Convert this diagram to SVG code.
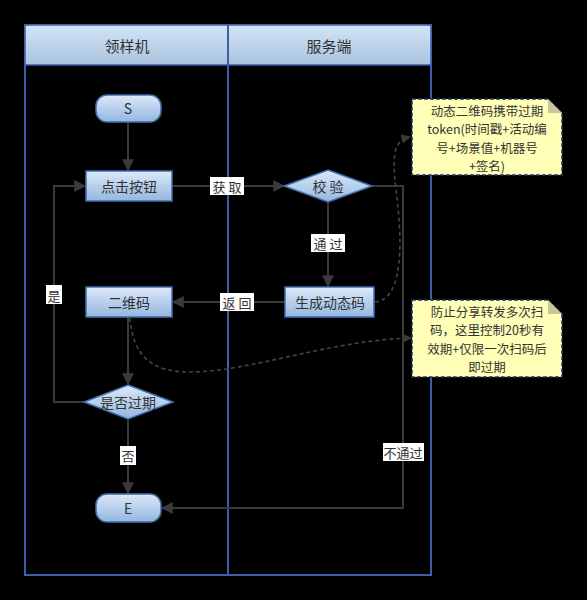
<svg xmlns="http://www.w3.org/2000/svg" width="587" height="600" viewBox="0 0 587 600">
<defs>
<linearGradient id="hdr" x1="0" y1="0" x2="0" y2="1"><stop offset="0" stop-color="#d3e4f6"/><stop offset="1" stop-color="#a9c3df"/></linearGradient>
<linearGradient id="nd" x1="0" y1="0" x2="0" y2="1"><stop offset="0" stop-color="#dce9f8"/><stop offset="1" stop-color="#94b6e0"/></linearGradient>
<marker id="ar" viewBox="0 0 10 10" refX="9" refY="5" markerWidth="6" markerHeight="6" orient="auto"><path d="M0,0 L10,5 L0,10 z" fill="#3a3a3a"/></marker>
<style>
.t{font-family:"Noto Sans CJK SC","Liberation Sans",sans-serif;fill:#333;text-anchor:middle;dominant-baseline:central}
.n{fill:url(#nd);stroke:#3f6db0;stroke-width:1.5}
.c{fill:none;stroke:#3a3a3a;stroke-width:2}
.d{fill:none;stroke:#444;stroke-width:1.6;stroke-dasharray:4 3}
.lb{fill:#fff}
.nt{fill:#ffffb8;stroke:#23305e;stroke-width:1.5;stroke-dasharray:4 2}
</style>
</defs>
<rect width="587" height="600" fill="#000"/>
<g id="pool">
<rect x="25" y="25" width="406" height="550" fill="none" stroke="#3c5fa8" stroke-width="2"/>
<rect x="25" y="25" width="406" height="40" fill="url(#hdr)" stroke="#3c5fa8" stroke-width="1.5"/>
<line x1="228" y1="25" x2="228" y2="575" stroke="#3c5fa8" stroke-width="2"/>
<text class="t" x="127" y="45" font-size="15">领样机</text>
<text class="t" x="329" y="45" font-size="15">服务端</text>
</g>
<g id="connectors">
<path class="c" d="M128,122 V170" marker-end="url(#ar)"/>
<path class="c" d="M172,186 H284" marker-end="url(#ar)"/>
<path class="c" d="M328,202 V286" marker-end="url(#ar)"/>
<path class="c" d="M285,302 H173" marker-end="url(#ar)"/>
<path class="c" d="M128,317 V384" marker-end="url(#ar)"/>
<path class="c" d="M84,402 H54 V186 H85" marker-end="url(#ar)"/>
<path class="c" d="M128,418 V493" marker-end="url(#ar)"/>
<path class="c" d="M372,186 H403 V508 H162" marker-end="url(#ar)"/>
<path class="d" d="M375,302 C405,300 402,235 396,190 C391,150 396,140 410,137" marker-end="url(#ar)"/>
<path class="d" d="M130,318 C133,355 150,372 190,372 C250,372 330,340 411,338" marker-end="url(#ar)"/>
<rect class="lb" x="210" y="177" width="34" height="18"/><text class="t" x="227" y="186" font-size="13">获 取</text>
<rect class="lb" x="311" y="234" width="34" height="18"/><text class="t" x="328" y="243" font-size="13">通 过</text>
<rect class="lb" x="220" y="293" width="34" height="18"/><text class="t" x="237" y="302" font-size="13">返 回</text>
<rect class="lb" x="46" y="285" width="16" height="19"/><text class="t" x="54" y="295" font-size="13">是</text>
<rect class="lb" x="120" y="446" width="16" height="19"/><text class="t" x="128" y="455" font-size="13">否</text>
<rect class="lb" x="383" y="443" width="41" height="18"/><text class="t" x="403" y="452" font-size="13">不通过</text>
</g>
<g id="S"><rect class="n" x="96" y="95" width="65" height="27" rx="11"/><text class="t" x="128" y="108" font-size="14">S</text></g>
<g id="click"><rect class="n" x="86" y="171" width="86" height="30"/><text class="t" x="129" y="186" font-size="14">点击按钮</text></g>
<g id="verify"><polygon class="n" points="328,170 372,186 328,202 284,186"/><text class="t" x="328" y="186" font-size="14">校 验</text></g>
<g id="gen"><rect class="n" x="285" y="287" width="89" height="30"/><text class="t" x="330" y="302" font-size="14">生成动态码</text></g>
<g id="qr"><rect class="n" x="86" y="287" width="86" height="30"/><text class="t" x="129" y="302" font-size="14">二维码</text></g>
<g id="expired"><polygon class="n" points="128,385 173,402 128,419 84,402"/><text class="t" x="128" y="402" font-size="14">是否过期</text></g>
<g id="E"><rect class="n" x="96" y="494" width="65" height="28" rx="11"/><text class="t" x="128" y="508" font-size="14">E</text></g>
<g id="note1">
<path class="nt" d="M412,99 H548 L562,113 V175 H412 Z"/>
<path d="M548,99 L562,113 H548 Z" fill="#c8c89a"/>
<text class="t" x="487" y="110" font-size="12.5">动态二维码携带过期</text>
<text class="t" x="487" y="128.5" font-size="12.5">token(时间戳+活动编</text>
<text class="t" x="487" y="147" font-size="12.5">号+场景值+机器号</text>
<text class="t" x="487" y="165.5" font-size="12.5">+签名)</text>
</g>
<g id="note2">
<path class="nt" d="M412,300 H548 L562,314 V377 H412 Z"/>
<path d="M548,300 L562,314 H548 Z" fill="#c8c89a"/>
<text class="t" x="487" y="311" font-size="12.5">防止分享转发多次扫</text>
<text class="t" x="487" y="329.5" font-size="12.5">码，这里控制20秒有</text>
<text class="t" x="487" y="348" font-size="12.5">效期+仅限一次扫码后</text>
<text class="t" x="487" y="366.5" font-size="12.5">即过期</text>
</g>
</svg>
